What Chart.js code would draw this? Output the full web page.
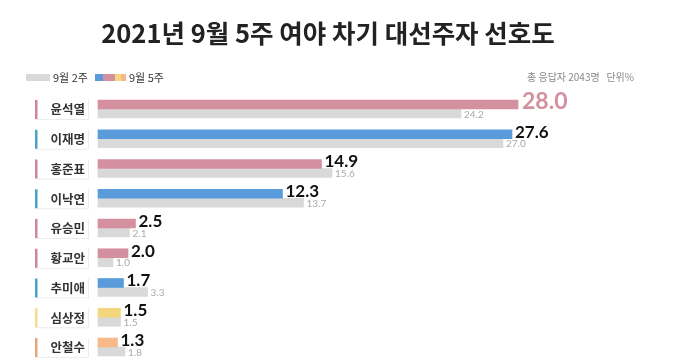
<!DOCTYPE html>
<html><head><meta charset="utf-8">
<script src="https://cdn.jsdelivr.net/npm/chart.js@4/dist/chart.umd.min.js"></script>
<style>html,body{margin:0;padding:0;background:#fff}#wrap{width:680px;height:361px;position:relative}</style>
</head><body><div id="wrap"><canvas id="c" width="680" height="361"></canvas></div>
<script>
const categories = ['윤석열','이재명','홍준표','이낙연','유승민','황교안','추미애','심상정','안철수'];
const week5 = [28.0, 27.6, 14.9, 12.3, 2.5, 2.0, 1.7, 1.5, 1.3];
const week2 = [24.2, 27.0, 15.6, 13.7, 2.1, 1.0, 3.3, 1.5, 1.8];
const seriesNames = ['9월 5주','9월 2주'];
const titleText = '2021년 9월 5주 여야 차기 대선주자 선호도';
const noteText = '총 응답자 2043명   단위%';
const barColors = ['#d4909f','#5b9bdb','#d4909f','#5b9bdb','#d4909f','#d4909f','#5b9bdb','#f2d77e','#f8b98a'];
const accentColors = ['#cf8596','#4aa3c4','#cf8596','#4aa3c4','#cf8596','#cf8596','#4aa3c4','#f2dc8a','#e9a27c'];
const KR = '"Noto Sans CJK KR", "Noto Sans", sans-serif';
const NUM = 'Lato, "Noto Sans", sans-serif';

const deco = {
  id:'deco',
  afterDraw(chart){
    const ctx = chart.ctx;
    const y = chart.scales.y;
    ctx.save();
    // title
    ctx.fillStyle = '#222';
    ctx.font = 'bold 25.5px ' + KR;
    ctx.textAlign = 'center'; ctx.textBaseline = 'middle';
    ctx.fillText(titleText, 328, 33);
    // legend
    ctx.fillStyle = '#d9d9d9'; ctx.fillRect(26, 74, 24, 7);
    const segs = ['#5b9bdb','#d4909f','#d4909f','#f2d77e','#f8b98a'];
    const sw = [8,6,6,6,5]; let sx = 95;
    segs.forEach((c,i)=>{ctx.fillStyle=c; ctx.fillRect(sx,74,sw[i],7); sx+=sw[i];});
    ctx.fillStyle = '#333'; ctx.font = '11px ' + KR; ctx.textAlign='left';
    ctx.fillText(seriesNames[1], 53, 77.5);
    ctx.fillText(seriesNames[0], 129, 77.5);
    ctx.fillStyle = '#888'; ctx.font = '10px ' + KR; ctx.textAlign='right';
    ctx.fillText(noteText, 634, 77);
    // category labels
    categories.forEach((name,i)=>{
      const cy = y.getPixelForValue(i);
      ctx.fillStyle = '#fff';
      ctx.strokeStyle = '#ececec'; ctx.lineWidth = 1;
      ctx.fillRect(36, cy-9, 52, 19);
      ctx.beginPath(); ctx.moveTo(36, cy+10.5); ctx.lineTo(88.5, cy+10.5); ctx.lineTo(88.5, cy-9); ctx.stroke();
      ctx.fillStyle = accentColors[i]; ctx.fillRect(35, cy-9, 2.5, 19);
      ctx.fillStyle = '#333'; ctx.font = 'bold 12.5px ' + KR; ctx.textAlign='right'; ctx.textBaseline='middle';
      ctx.fillText(name, 85, cy+0.5);
    });
    // value labels
    const m5 = chart.getDatasetMeta(0), m2 = chart.getDatasetMeta(1);
    week5.forEach((v,i)=>{
      const b = m5.data[i];
      if(i===0){
        ctx.fillStyle = '#d4909f'; ctx.font = 'bold 23px ' + NUM;
        ctx.textAlign='left'; ctx.textBaseline='middle';
        ctx.fillText(v.toFixed(1), b.x+4, b.y-3);
      } else {
        ctx.fillStyle = '#111'; ctx.font = 'bold 17px ' + NUM;
        ctx.textAlign='left'; ctx.textBaseline='middle';
        ctx.fillText(v.toFixed(1), b.x+3, b.y-2);
      }
    });
    week2.forEach((v,i)=>{
      const b = m2.data[i];
      ctx.fillStyle = '#aaa'; ctx.font = '10px ' + NUM;
      ctx.textAlign='left'; ctx.textBaseline='middle';
      ctx.fillText(v.toFixed(1), b.x+3, b.y+1);
    });
    ctx.restore();
  }
};

new Chart(document.getElementById('c'), {
  type:'bar',
  data:{
    labels: categories,
    datasets:[
      {label: seriesNames[0], data: week5, backgroundColor: barColors, barThickness: 9, clip:false},
      {label: seriesNames[1], data: week2, backgroundColor: '#d9d9d9', barThickness: 9, clip:false}
    ]
  },
  options:{
    indexAxis:'y',
    responsive:false,
    animation:false,
    layout:{padding:{left:98, right:42, top:109, bottom:14}},
    plugins:{legend:{display:false}, title:{display:false}, tooltip:{enabled:false}},
    scales:{
      x:{display:false, min:0, max:36},
      y:{display:false, offset:false}
    }
  },
  plugins:[deco]
});
</script></body></html>
